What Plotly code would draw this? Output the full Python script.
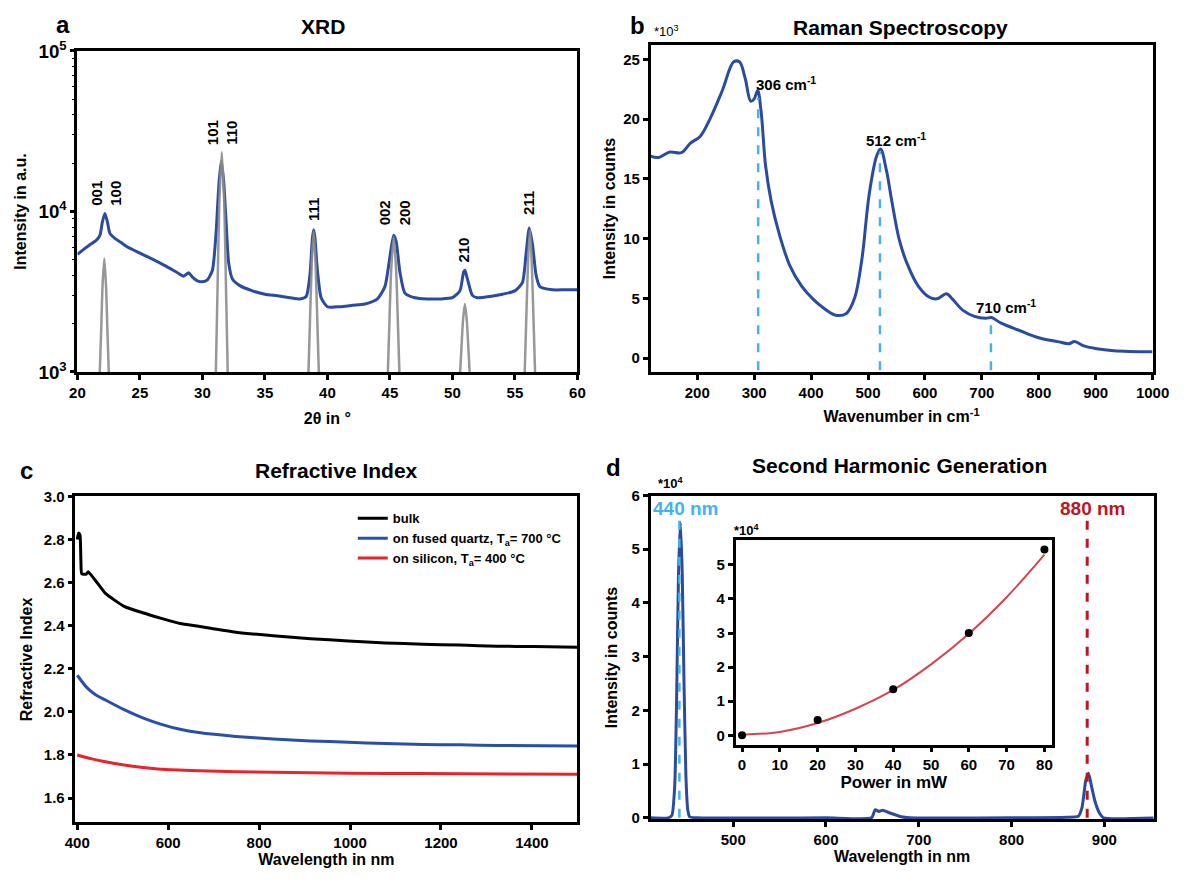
import plotly.graph_objects as go

W, H = 1193, 882
FONT = "Liberation Sans, Arial, sans-serif"
BLUE = "#2B4C9E"
LIGHTBLUE = "#45B3E7"
DARKRED = "#C0141E"

# ---------------- Panel a: XRD ----------------
xrd_x = [20.0, 20.5, 21.0, 21.5, 21.8, 22.0, 22.2, 22.4, 22.6, 23.0, 23.5, 24.0, 25.0, 26.0, 27.0,
         28.0, 28.5, 28.9, 29.2, 29.6, 30.0, 30.4, 30.8, 31.1, 31.3, 31.5, 31.7, 31.9, 32.1, 32.4,
         33.0, 34.0, 35.0, 36.0, 37.0, 37.8, 38.3, 38.6, 38.8, 38.9, 39.0, 39.2, 39.5, 40.0, 41.0,
         42.0, 43.0, 44.0, 44.6, 45.0, 45.3, 45.5, 45.8, 46.2, 47.0, 48.0, 49.0, 50.0, 50.6, 50.9,
         51.0, 51.2, 51.6, 52.0, 53.0, 54.0, 55.0, 55.6, 55.9, 56.15, 56.4, 56.7, 57.0, 58.0, 59.0, 60.0]
xrd_i = [5400, 5800, 6200, 6600, 7100, 8600, 9700, 8600, 7300, 6800, 6400, 6000, 5500, 5050, 4600,
         4150, 3950, 4150, 3900, 3700, 3650, 3750, 4300, 7500, 14000, 20600, 15500, 8500, 4800, 3800,
         3450, 3200, 3050, 2980, 2900, 2850, 2950, 4000, 6800, 7700, 6900, 4300, 2900, 2550, 2550,
         2600, 2650, 2850, 3400, 5200, 7100, 6500, 4200, 3100, 2900, 2850, 2850, 2900, 3200, 4200,
         4300, 3800, 3000, 2900, 2950, 3050, 3200, 3600, 5500, 7900, 6300, 4000, 3400, 3250, 3250, 3250]

ref_x = [21.75, 21.9, 22.0, 22.15, 22.3, 22.4, 22.55, None,
         31.05, 31.2, 31.35, 31.55, 31.75, 31.9, 32.05, None,
         38.45, 38.6, 38.75, 38.9, 39.05, 39.2, 39.35, None,
         44.8, 44.95, 45.1, 45.3, 45.5, 45.65, 45.8, None,
         50.55, 50.7, 50.85, 51.0, 51.15, 51.3, 51.45, None,
         55.75, 55.9, 56.05, 56.2, 56.35, 56.5, 56.65]
ref_i = [800, 1800, 3300, 5100, 3300, 1800, 800, None,
         800, 3000, 11000, 23500, 11000, 3000, 800, None,
         800, 2000, 4800, 7500, 4800, 2000, 800, None,
         800, 1900, 4300, 6900, 4300, 1900, 800, None,
         800, 1300, 2100, 2650, 2100, 1300, 800, None,
         800, 2000, 4800, 7700, 4800, 2000, 800]

hkl_labels = ["001<br>100", "101<br>110", "111", "002<br>200", "210", "211"]
hkl_x = [22.35, 31.6, 38.95, 45.35, 50.9, 56.1]
hkl_logy = [4.115, 4.49, 4.01, 3.99, 3.76, 4.05]

# ---------------- Panel b: Raman ----------------
raman_x = [118, 132, 152, 172, 188, 205, 224, 244, 264, 274, 284, 294, 300, 306, 312, 320, 330,
           344, 363, 383, 403, 423, 443, 462, 476, 489, 502, 515, 522, 532, 542, 555, 568, 588,
           608, 621, 638, 648, 667, 687, 707, 717, 734, 767, 800, 833, 853, 863, 879, 899, 932, 1000]
raman_y = [16.9, 16.8, 17.25, 17.2, 18.0, 18.56, 20.2, 22.4, 24.8, 24.8, 23.45, 21.5, 21.7, 22.4,
           20.7, 16.1, 13.1, 10.4, 7.7, 6.06, 4.97, 4.16, 3.6, 3.75, 4.97, 8.2, 13.7, 16.9, 17.5,
           15.8, 13.1, 9.9, 8.0, 6.06, 5.1, 4.97, 5.4, 4.97, 4.0, 3.5, 3.34, 3.4, 2.93, 2.3, 1.71,
           1.39, 1.22, 1.39, 1.03, 0.82, 0.63, 0.54]
raman_marks = [307, 521, 716]
raman_mark_tops = [21.8, 17.3, 3.35]
raman_labels = ["306 cm<sup>-1</sup>", "512 cm<sup>-1</sup>", "710 cm<sup>-1</sup>"]

# ---------------- Panel c: Refractive index ----------------
bulk_x = [400, 403, 406, 408, 410, 420, 424, 440, 462, 503, 544, 585, 626, 667, 749, 831, 913,
          996, 1078, 1160, 1242, 1324, 1406, 1500]
bulk_n = [2.80, 2.83, 2.82, 2.70, 2.64, 2.64, 2.65, 2.61, 2.55, 2.49, 2.46, 2.434, 2.41, 2.397,
          2.37, 2.353, 2.34, 2.329, 2.32, 2.314, 2.31, 2.305, 2.303, 2.30]
quartz_x = [400, 420, 440, 462, 503, 544, 585, 626, 667, 749, 831, 913, 996, 1078, 1160, 1242, 1324, 1500]
quartz_n = [2.17, 2.115, 2.08, 2.055, 2.01, 1.972, 1.942, 1.919, 1.904, 1.886, 1.874, 1.865,
            1.859, 1.853, 1.848, 1.847, 1.844, 1.842]
silicon_x = [400, 430, 462, 503, 544, 585, 667, 749, 913, 1078, 1242, 1500]
silicon_n = [1.80, 1.783, 1.768, 1.753, 1.742, 1.734, 1.727, 1.722, 1.717, 1.714, 1.713, 1.71]
legend_names = ["bulk", "on fused quartz, T<sub>a</sub>= 700 °C", "on silicon, T<sub>a</sub>= 400 °C"]

# ---------------- Panel d: SHG ----------------
shg_x = [411, 430, 434, 437, 439, 441, 443, 445, 447, 449, 451, 453, 460, 600, 649, 653, 657,
         661, 669, 681, 690, 800, 860, 872, 876, 880, 883, 886, 890, 895, 899, 955]
shg_y = [0, 0, 0.05, 0.6, 2.2, 4.5, 5.5, 4.6, 2.5, 0.8, 0.15, 0.02, 0, 0, 0, 0.15, 0.12,
         0.14, 0.09, 0.02, 0, 0, 0.01, 0.03, 0.2, 0.7, 0.83, 0.6, 0.3, 0.08, 0, 0]
line440 = [442, 0, 5.58]
line880 = [881.5, 0, 5.58]

power_mw = [0, 20, 40, 60, 80]
power_int = [0.0, 0.45, 1.35, 3.0, 5.45]
fit_x = [0, 10, 20, 30, 40, 50, 60, 70, 80]
fit_y = [0.02, 0.1, 0.36, 0.78, 1.33, 2.08, 2.98, 4.05, 5.3]


def px(x):
    return x / W


def py(y):
    return 1 - y / H


def tickfont(size=15):
    return dict(family=FONT, size=size, color="black", weight="bold")


def axis(domain, anchor, **kw):
    d = dict(domain=domain, anchor=anchor, showline=True, mirror=True, linecolor="black",
             linewidth=2.5, ticks="outside", ticklen=5, tickwidth=2.5, tickcolor="black",
             showgrid=False, zeroline=False, tickfont=tickfont())
    d.update(kw)
    return d


def atitle(text, standoff, size=16):
    return dict(text=text, font=dict(family=FONT, size=size, color="black", weight="bold"), standoff=standoff)


fig = go.Figure()

# a
fig.add_trace(go.Scatter(x=xrd_x, y=xrd_i, mode="lines", line=dict(color=BLUE, width=3, shape="spline", smoothing=0.6),
                         xaxis="x", yaxis="y", showlegend=False))
fig.add_trace(go.Scatter(x=ref_x, y=ref_i, mode="lines",
                         line=dict(color="rgba(140,140,140,0.9)", width=2.5, shape="spline", smoothing=0.6),
                         xaxis="x", yaxis="y", showlegend=False, connectgaps=False))

# b
fig.add_trace(go.Scatter(x=raman_x, y=raman_y, mode="lines", line=dict(color=BLUE, width=3, shape="spline"),
                         xaxis="x2", yaxis="y2", showlegend=False))
for xm, top in zip(raman_marks, raman_mark_tops):
    fig.add_trace(go.Scatter(x=[xm, xm], y=[-1.0, top], mode="lines",
                             line=dict(color=LIGHTBLUE, width=2.5, dash="dash"),
                             xaxis="x2", yaxis="y2", showlegend=False))

# c
for xs, ys, col, name in [(bulk_x, bulk_n, "black", legend_names[0]),
                          (quartz_x, quartz_n, "#2B4FA8", legend_names[1]),
                          (silicon_x, silicon_n, "#E8232A", legend_names[2])]:
    fig.add_trace(go.Scatter(x=xs, y=ys, mode="lines", line=dict(color=col, width=3, shape="spline", smoothing=0.5),
                             name=name, xaxis="x3", yaxis="y3", showlegend=True))

# d
fig.add_trace(go.Scatter(x=shg_x, y=shg_y, mode="lines", line=dict(color=BLUE, width=3, shape="spline", smoothing=0.5),
                         xaxis="x4", yaxis="y4", showlegend=False))
fig.add_trace(go.Scatter(x=[line440[0], line440[0]], y=line440[1:], mode="lines",
                         line=dict(color=LIGHTBLUE, width=2.5, dash="dash"),
                         xaxis="x4", yaxis="y4", showlegend=False))
fig.add_trace(go.Scatter(x=[line880[0], line880[0]], y=line880[1:], mode="lines",
                         line=dict(color=DARKRED, width=3, dash="dash"),
                         xaxis="x4", yaxis="y4", showlegend=False))
# inset
fig.add_trace(go.Scatter(x=fit_x, y=fit_y, mode="lines", line=dict(color="#D9434F", width=2, shape="spline"),
                         xaxis="x5", yaxis="y5", showlegend=False))
fig.add_trace(go.Scatter(x=power_mw, y=power_int, mode="markers", marker=dict(color="black", size=8),
                         xaxis="x5", yaxis="y5", showlegend=False))

fig.update_layout(
    width=W, height=H, margin=dict(l=0, r=0, t=0, b=0),
    paper_bgcolor="white", plot_bgcolor="white",
    font=dict(family=FONT, color="black"),
    xaxis=axis([px(68), px(580)], "y", range=[20, 60], dtick=5, title=atitle("2θ in °", 14)),
    yaxis=axis([py(369), py(39)], "x", type="log", range=[3, 5], dtick=1, exponentformat="power",
               showexponent="all", minor=dict(ticks="outside", ticklen=3, tickwidth=1, tickcolor="black"),
               title=atitle("Intensity in a.u.", 8)),
    xaxis2=axis([px(655), px(1169)], "y2", range=[118, 1000], tickvals=[200, 300, 400, 500, 600, 700, 800, 900, 1000],
                title=atitle("Wavenumber in cm<sup>-1</sup>", 12)),
    yaxis2=axis([py(369), py(33)], "x2", range=[-1.15, 26.2], tickvals=[0, 5, 10, 15, 20, 25],
                title=atitle("Intensity in counts", 4)),
    xaxis3=axis([px(66), px(580)], "y3", range=[396, 1500], tickvals=[400, 600, 800, 1000, 1200, 1400],
                title=atitle("Wavelength in nm", 2)),
    yaxis3=axis([py(832), py(497)], "x3", range=[1.487, 3.0], tickvals=[1.6, 1.8, 2.0, 2.2, 2.4, 2.6, 2.8, 3.0],
                tickformat=".1f", title=atitle("Refractive Index", 8)),
    xaxis4=axis([px(655), px(1170)], "y4", range=[411, 953], tickvals=[500, 600, 700, 800, 900],
                title=atitle("Wavelength in nm", 2)),
    yaxis4=axis([py(829), py(496)], "x4", range=[-0.03, 6.0], tickvals=[0, 1, 2, 3, 4, 5, 6],
                title=atitle("Intensity in counts", 10)),
    xaxis5=axis([px(742), px(1066)], "y5", range=[-1.7, 82], tickvals=[0, 10, 20, 30, 40, 50, 60, 70, 80],
                title=atitle("Power in mW", 2, size=17)),
    yaxis5=axis([py(752), py(542)], "x5", range=[-0.27, 5.72], tickvals=[0, 1, 2, 3, 4, 5]),
    legend=dict(x=px(350), y=py(504), xanchor="left", yanchor="top", bgcolor="rgba(0,0,0,0)",
                font=dict(family=FONT, size=13, color="black", weight="bold"), tracegroupgap=0,
                itemwidth=30),
)

ann = []


def add_paper(text, x, y, size, color="black", bold=True, xanchor="center"):
    ann.append(dict(text=text, x=px(x), y=py(y), xref="paper", yref="paper", showarrow=False,
                    xanchor=xanchor, yanchor="middle",
                    font=dict(family=FONT, size=size, color=color, weight="bold" if bold else "normal")))


add_paper("XRD", 320, 14, 21)
add_paper("Raman Spectroscopy", 911, 15, 21)
add_paper("Refractive Index", 333, 470, 21)
add_paper("Second Harmonic Generation", 910, 465, 21)
add_paper("a", 53, 12, 24)
add_paper("b", 642, 13, 24)
add_paper("c", 16, 470, 24)
add_paper("d", 617, 467, 24)
add_paper("*10<sup>3</sup>", 671, 18, 13, bold=False)
add_paper("*10<sup>4</sup>", 676, 483, 13)
add_paper("*10<sup>4</sup>", 754, 531, 13)
add_paper("440 nm", 691, 509, 19, color=LIGHTBLUE)
add_paper("880 nm", 1108, 509, 19, color=DARKRED)

for t, xx, yy in zip(hkl_labels, hkl_x, hkl_logy):
    ann.append(dict(text=t, x=xx, y=yy, xref="x", yref="y", showarrow=False, textangle=-90,
                    font=dict(family=FONT, size=15, color="black", weight="bold")))

raman_label_px = [(794, 72), (906, 130), (1019, 302)]
for t, (lx, ly) in zip(raman_labels, raman_label_px):
    add_paper(t, lx, ly, 15)

fig.update_layout(annotations=ann)
fig.write_html("out.html", config={"displayModeBar": False},
               post_script="document.body.style.margin='0';")
